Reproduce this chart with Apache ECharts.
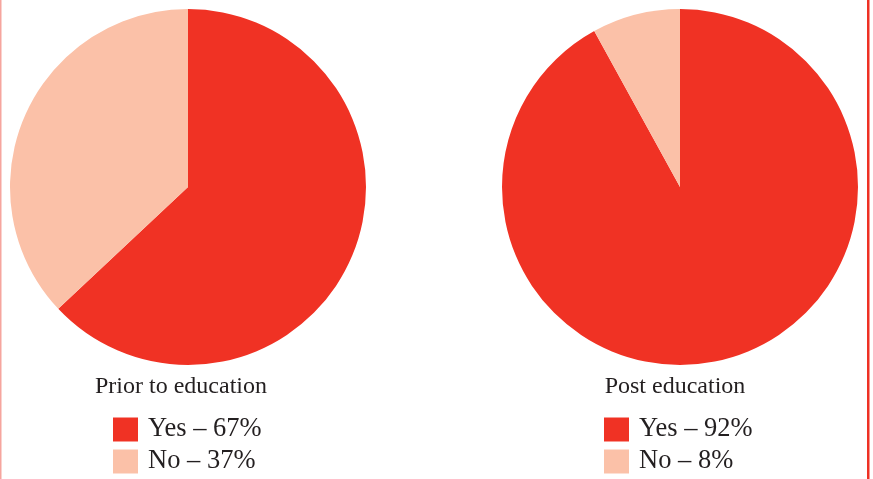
<!DOCTYPE html>
<html>
<head>
<meta charset="utf-8">
<script src="https://cdn.jsdelivr.net/npm/echarts@6/dist/echarts.min.js"></script>
<style>
html,body{margin:0;padding:0;background:#fff;}
#c{width:873px;height:479px;}
</style>
</head>
<body>
<div id="c"></div>
<script>
// Data
const chartTitles = ['Prior to education', 'Post education'];
const categories = ['Yes', 'No'];
const priorValues = [63, 37];          // slice sizes as drawn
const postValues = [92, 8];
const priorLabels = ['Yes \u2013 67%', 'No \u2013 37%'];  // legend text as printed
const postLabels = ['Yes \u2013 92%', 'No \u2013 8%'];

const colors = ['#F03224', '#FBC1A8'];
const serif = '"Liberation Serif", "DejaVu Serif", serif';

const chart = echarts.init(document.getElementById('c'), null, {renderer: 'canvas'});

function pieData(values, labels) {
  return values.map((v, i) => ({name: labels[i], value: v, itemStyle: {color: colors[i]}}));
}

const legendBase = {
  orient: 'vertical', top: 415, icon: 'rect', padding: 0, height: 64,
  itemWidth: 25, itemHeight: 24, itemGap: 3, selectedMode: false,
  textStyle: {fontFamily: serif, fontSize: 26.5, lineHeight: 29, color: '#231f20', padding: [0, 0, 0, 5]}
};

const option = {
  animation: false,
  title: [
    {text: chartTitles[0], left: 176, top: 370, textAlign: 'center',
     textStyle: {fontFamily: serif, fontSize: 24, fontWeight: 'normal', color: '#231f20'}},
    {text: chartTitles[1], left: 670, top: 370, textAlign: 'center',
     textStyle: {fontFamily: serif, fontSize: 24, fontWeight: 'normal', color: '#231f20'}}
  ],
  legend: [
    Object.assign({}, legendBase, {data: priorLabels, left: 113}),
    Object.assign({}, legendBase, {data: postLabels, left: 604})
  ],
  graphic: [
    {type: 'rect', shape: {x: 0, y: 0, width: 1.5, height: 479}, style: {fill: '#F6A59E'}},
    {type: 'rect', shape: {x: 867, y: 0, width: 2.5, height: 479}, style: {fill: '#EE3124'}}
  ],
  series: [
    {type: 'pie', center: [188, 187], radius: 178, startAngle: 90, clockwise: true,
     label: {show: false}, labelLine: {show: false}, silent: true,
     itemStyle: {borderWidth: 0},
     data: pieData(priorValues, priorLabels)},
    {type: 'pie', center: [680, 187], radius: 178, startAngle: 90, clockwise: true,
     label: {show: false}, labelLine: {show: false}, silent: true,
     itemStyle: {borderWidth: 0},
     data: pieData(postValues, postLabels)}
  ]
};
chart.setOption(option);
</script>
</body>
</html>
